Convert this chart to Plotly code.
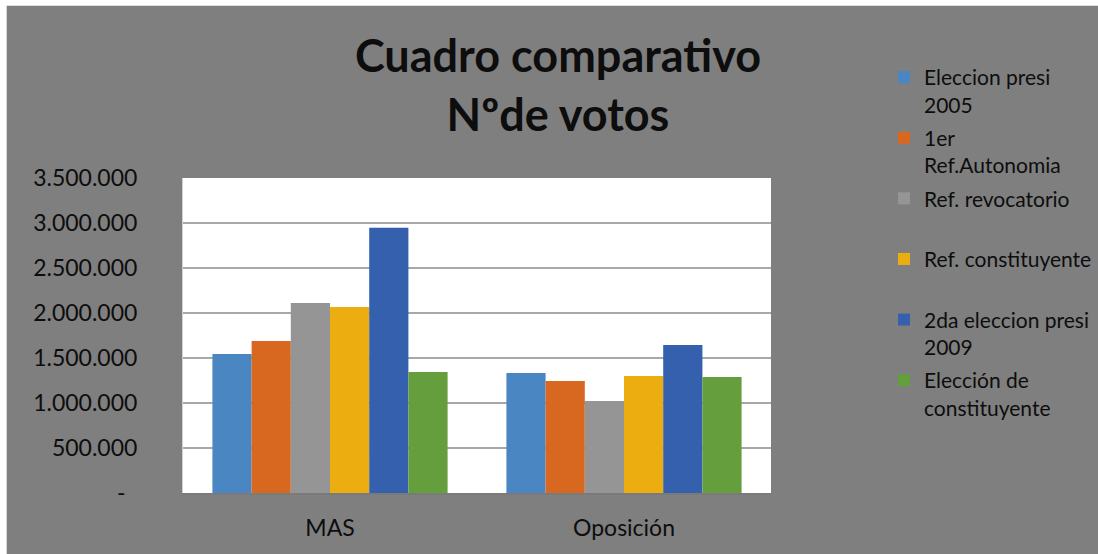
import plotly.graph_objects as go

categories = ["MAS", "Oposición"]
series_names = [
    "Eleccion presi<br>2005",
    "1er<br>Ref.Autonomia",
    "Ref. revocatorio<br> ",
    "Ref. constituyente<br> ",
    "2da eleccion presi<br>2009",
    "Elección de<br>constituyente",
]
series_values = [
    [1544000, 1333000],
    [1689000, 1244000],
    [2112000, 1021000],
    [2068000, 1300000],
    [2948000, 1645000],
    [1344000, 1288000],
]
series_colors = ["#4A87C2", "#D86720", "#959595", "#EBAD10", "#3460AE", "#659E3C"]
y_tickvals = [0, 500000, 1000000, 1500000, 2000000, 2500000, 3000000, 3500000]
y_ticktext = ["-\u00a0\u00a0", "500.000", "1.000.000", "1.500.000", "2.000.000",
              "2.500.000", "3.000.000", "3.500.000"]

FONT = "Lato, Carlito, Calibri, sans-serif"

fig = go.Figure()
for i, (name, vals, col) in enumerate(zip(series_names, series_values, series_colors)):
    fig.add_trace(go.Bar(x=categories, y=vals, name=name, legendgroup=f"g{i}",
                         marker=dict(color=col, line=dict(width=0))))

fig.update_layout(
    width=1098, height=554,
    margin=dict(l=183, r=327, t=178, b=61, autoexpand=False),
    paper_bgcolor="#7F7F7F",
    plot_bgcolor="#FFFFFF",
    barmode="group", bargap=0.2, bargroupgap=0,
    font=dict(family=FONT, color="#0D0D0D"),
    title=dict(text="<b>Cuadro comparativo<br>Nºde votos</b>",
               font=dict(family=FONT, size=45, color="#0D0D0D"),
               x=558/1098, xanchor="center", xref="container",
               y=1 - 72/554, yanchor="top", yref="container"),
    legend=dict(x=884/1098, xref="container", xanchor="left",
                y=1 - 57/554, yref="container", yanchor="top",
                font=dict(family=FONT, size=21, color="#0D0D0D"),
                bgcolor="rgba(0,0,0,0)", valign="top",
                traceorder="grouped", itemwidth=30,
                tracegroupgap=3, maxheight=500),
    xaxis=dict(type="category", showgrid=False, showline=True,
               linecolor="#7A7A7A", linewidth=1.5,
               tickfont=dict(family=FONT, size=23, color="#0D0D0D"),
               ticks="", ticklabelstandoff=14, fixedrange=True),
    yaxis=dict(range=[0, 3500000], tickvals=y_tickvals, ticktext=y_ticktext,
               showgrid=True, gridcolor="#A8A8A8", gridwidth=1.5,
               zeroline=False, showline=True, linecolor="#D0D0D0", linewidth=1,
               tickfont=dict(family=FONT, size=23, color="#0D0D0D"),
               ticks="", ticklabelstandoff=40, fixedrange=True),
    shapes=[
        dict(type="rect", xref="paper", yref="paper",
             x0=-1, x1=2, y0=1 + 172/314.7, y1=2, fillcolor="#FFFFFF",
             line=dict(width=0), layer="above"),
        dict(type="rect", xref="paper", yref="paper",
             x0=-1, x1=-176/587, y0=-1, y1=2, fillcolor="#FFFFFF",
             line=dict(width=0), layer="above"),
    ],
)

fig.write_html("out.html", config={"displayModeBar": False},
               post_script="document.body.style.margin='0';document.body.style.padding='0';")
